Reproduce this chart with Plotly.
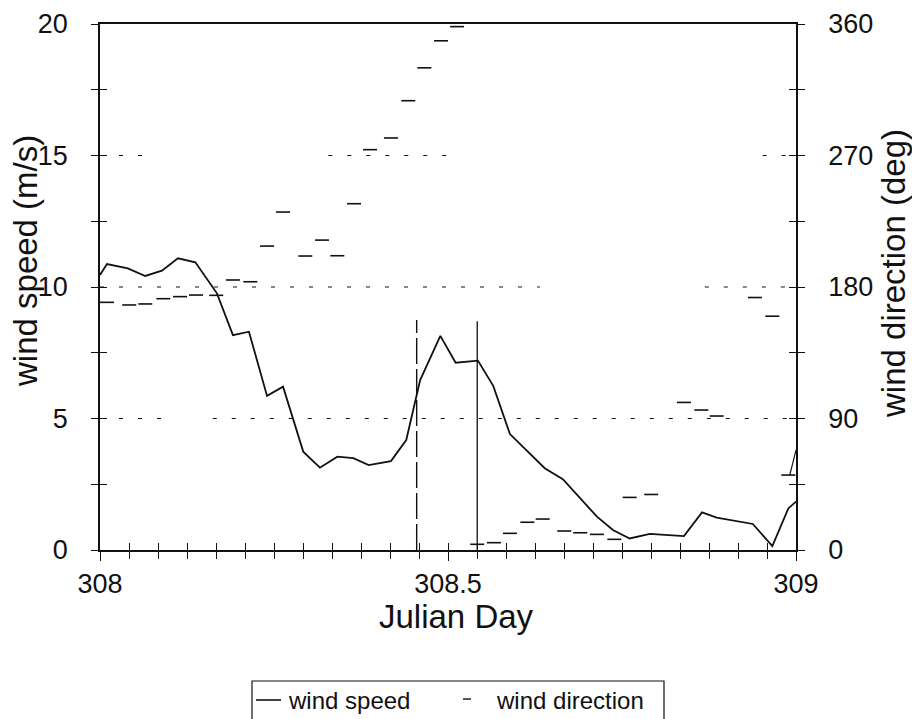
import plotly.graph_objects as go

# Wind speed record (Julian day, m/s)
speed_time = [308.000, 308.010, 308.040, 308.065, 308.089, 308.112, 308.137, 308.168,
              308.191, 308.214, 308.240, 308.263, 308.292, 308.316, 308.341, 308.364,
              308.386, 308.418, 308.440, 308.460, 308.489, 308.511, 308.543, 308.565,
              308.589, 308.614, 308.639, 308.665, 308.690, 308.714, 308.737, 308.761,
              308.790, 308.839, 308.865, 308.886, 308.938, 308.966, 308.989, 309.000]
wind_speed = [10.46, 10.87, 10.71, 10.42, 10.62, 11.09, 10.94, 9.76,
              8.17, 8.30, 5.86, 6.21, 3.74, 3.13, 3.55, 3.49,
              3.23, 3.38, 4.18, 6.46, 8.14, 7.12, 7.20, 6.24,
              4.41, 3.74, 3.11, 2.69, 1.97, 1.27, 0.76, 0.44,
              0.61, 0.53, 1.43, 1.23, 0.99, 0.15, 1.58, 1.84]

# Wind direction record (Julian day, degrees)
dir_time = [308.010, 308.042, 308.065, 308.091, 308.115, 308.138, 308.167, 308.191,
            308.216, 308.240, 308.263, 308.295, 308.319, 308.341, 308.365, 308.388,
            308.418, 308.443, 308.466, 308.490, 308.513, 308.542, 308.566, 308.589,
            308.614, 308.636, 308.667, 308.690, 308.714, 308.739, 308.761, 308.792,
            308.839, 308.864, 308.886, 308.941, 308.966, 308.989]
wind_dir = [169.5, 167.7, 168.4, 172.0, 173.4, 174.5, 174.3, 184.8,
            183.6, 208.0, 231.3, 201.2, 212.1, 201.4, 237.0, 274.0,
            282.0, 307.5, 330.0, 348.5, 358.2, 3.9, 5.0, 11.4,
            19.0, 21.2, 13.0, 11.8, 10.7, 7.3, 36.0, 38.0,
            101.0, 95.8, 91.7, 172.8, 160.0, 51.3]

# short connecting piece of the direction record at the end of the day
dir_tail_time = [308.991, 309.000]
dir_tail = [51.3, 68.4]

# event markers (Julian day) and their heights (m/s)
event_dashed = 308.455
event_solid = 308.542
event_top = [8.75, 8.7]

# reference levels on the speed axis, drawn where the dotted rule is visible
grid_levels = [5, 10, 15]
grid_spans = {
    5: [(308.000, 308.095), (308.162, 309.000)],
    10: [(308.000, 308.632), (308.869, 309.000)],
    15: [(308.000, 308.068), (308.328, 308.500), (308.952, 309.000)],
}

x_ticks = [308, 308.5, 309]
x_ticktext = ["308", "308.5", "309"]

legend_labels = ["wind speed", "wind direction"]
axis_titles = ["Julian Day", "wind speed (m/s)", "wind direction (deg)"]

FONT = "Liberation Sans, Arial, Helvetica, sans-serif"
BLACK = "#111111"

fig = go.Figure()

fig.add_trace(go.Scatter(
    x=speed_time, y=wind_speed, mode="lines", name=legend_labels[0],
    line=dict(color=BLACK, width=1.8), xaxis="x", yaxis="y", showlegend=False,
))
fig.add_trace(go.Scatter(
    x=dir_time, y=wind_dir, mode="markers", name=legend_labels[1],
    marker=dict(symbol="line-ew", size=10, color=BLACK,
                line=dict(color=BLACK, width=1.6)),
    xaxis="x", yaxis="y2", showlegend=False,
))
fig.add_trace(go.Scatter(
    x=dir_tail_time, y=dir_tail, mode="lines", showlegend=False,
    line=dict(color=BLACK, width=1.2), xaxis="x", yaxis="y2", hoverinfo="skip",
))
# off-scale placeholder traces so the inward-tick overlay axes get drawn
fig.add_trace(go.Scatter(x=[308.5], y=[-50], mode="markers", xaxis="x2", yaxis="y3",
                         marker=dict(opacity=0), showlegend=False, hoverinfo="skip"))
fig.add_trace(go.Scatter(x=[308.5], y=[-500], mode="markers", xaxis="x2", yaxis="y4",
                         marker=dict(opacity=0), showlegend=False, hoverinfo="skip"))

shapes = []
for lvl in grid_levels:
    for x0, x1 in grid_spans[lvl]:
        shapes.append(dict(type="line", xref="x", yref="y", x0=x0, x1=x1, y0=lvl, y1=lvl,
                           line=dict(color=BLACK, width=1.2, dash="4px,15px"), layer="below"))
shapes.append(dict(type="line", xref="x", yref="y", x0=event_dashed, x1=event_dashed,
                   y0=0, y1=event_top[0], line=dict(color=BLACK, width=1.4, dash="26px,5px")))
shapes.append(dict(type="line", xref="x", yref="y", x0=event_solid, x1=event_solid,
                   y0=0, y1=event_top[1], line=dict(color=BLACK, width=1.3)))

# legend box below the axes (runs off the bottom edge of the page)
PW, PH, ML, MT = 696.0, 526.0, 100.0, 24.0


def px(xp):
    return (xp - ML) / PW


def py(yp):
    return (MT + PH - yp) / PH


shapes.append(dict(type="rect", xref="paper", yref="paper",
                   x0=px(252), x1=px(664), y0=py(681), y1=py(740),
                   line=dict(color=BLACK, width=1.2), fillcolor="white"))
shapes.append(dict(type="line", xref="paper", yref="paper",
                   x0=px(256), x1=px(281), y0=py(700), y1=py(700),
                   line=dict(color=BLACK, width=1.6)))
shapes.append(dict(type="line", xref="paper", yref="paper",
                   x0=px(463), x1=px(471), y0=py(699), y1=py(699),
                   line=dict(color=BLACK, width=1.4)))

legend_font = dict(family=FONT, size=24, color=BLACK)
title_font = dict(family=FONT, size=33, color=BLACK)

annotations = [
    dict(text=legend_labels[0], xref="paper", yref="paper", x=px(286), y=py(700),
         xanchor="left", yanchor="middle", showarrow=False, font=legend_font),
    dict(text=legend_labels[1], xref="paper", yref="paper", x=px(494), y=py(700),
         xanchor="left", yanchor="middle", showarrow=False, font=legend_font),
    dict(text=axis_titles[0], xref="paper", yref="paper", x=px(456), y=py(616),
         xanchor="center", yanchor="middle", showarrow=False, font=title_font),
    dict(text=axis_titles[1], xref="paper", yref="paper", x=px(25), y=py(261),
         xanchor="center", yanchor="middle", showarrow=False, font=title_font,
         textangle=-90),
    dict(text=axis_titles[2], xref="paper", yref="paper", x=px(893), y=py(274),
         xanchor="center", yanchor="middle", showarrow=False, font=title_font,
         textangle=-90),
]

tick_font = dict(family=FONT, size=27, color=BLACK)

common_axis = dict(showgrid=False, zeroline=False, tickcolor=BLACK, tickwidth=1.3)
# overlay axes only carry the inward half of each crossing tick (as minor ticks)
inner_axis = dict(showgrid=False, zeroline=False, tickmode="array", tickvals=[-1000],
                  ticks="inside", ticklen=7, tickcolor=BLACK, tickwidth=1.3,
                  showticklabels=False, showline=False, automargin=False)

fig.update_layout(
    width=912, height=719,
    margin=dict(l=100, r=116, t=24, b=169),
    paper_bgcolor="white", plot_bgcolor="white",
    font=dict(family=FONT, color=BLACK),
    showlegend=False,
    shapes=shapes,
    annotations=annotations,
    xaxis=dict(
        **common_axis, range=[308, 309], tickmode="array", tickvals=x_ticks,
        ticktext=x_ticktext, ticks="outside", ticklen=9,
        minor=dict(dtick=1 / 24, tick0=308, ticks="outside", ticklen=7,
                   tickcolor=BLACK, tickwidth=1.3),
        showline=True, linecolor=BLACK, linewidth=1.5, mirror=True,
        tickfont=tick_font, ticklabelstandoff=0, automargin=False,
    ),
    xaxis2=dict(
        **inner_axis, range=[308, 309], overlaying="x", anchor="y", side="bottom",
        minor=dict(dtick=1 / 24, tick0=308, ticks="inside", ticklen=7,
                   tickcolor=BLACK, tickwidth=1.3),
    ),
    yaxis=dict(
        **common_axis, range=[0, 20], dtick=5, ticks="outside", ticklen=7,
        minor=dict(dtick=2.5, ticks="outside", ticklen=7, tickcolor=BLACK, tickwidth=1.3),
        showline=True, linecolor=BLACK, linewidth=1.5,
        tickfont=tick_font, ticklabelstandoff=18, automargin=False,
    ),
    yaxis3=dict(
        **inner_axis, range=[0, 20], overlaying="y", side="left", anchor="x2",
        minor=dict(dtick=2.5, tick0=0, ticks="inside", ticklen=7,
                   tickcolor=BLACK, tickwidth=1.3),
    ),
    yaxis2=dict(
        **common_axis, range=[0, 360], overlaying="y", side="right", anchor="x",
        dtick=90, ticks="outside", ticklen=7,
        minor=dict(dtick=45, ticks="outside", ticklen=7, tickcolor=BLACK, tickwidth=1.3),
        showline=True, linecolor=BLACK, linewidth=1.5,
        tickfont=tick_font, ticklabelstandoff=18, automargin=False,
    ),
    yaxis4=dict(
        **inner_axis, range=[0, 360], overlaying="y", side="right", anchor="x2",
        minor=dict(dtick=45, tick0=0, ticks="inside", ticklen=7,
                   tickcolor=BLACK, tickwidth=1.3),
    ),
)

fig.write_html("out.html")
